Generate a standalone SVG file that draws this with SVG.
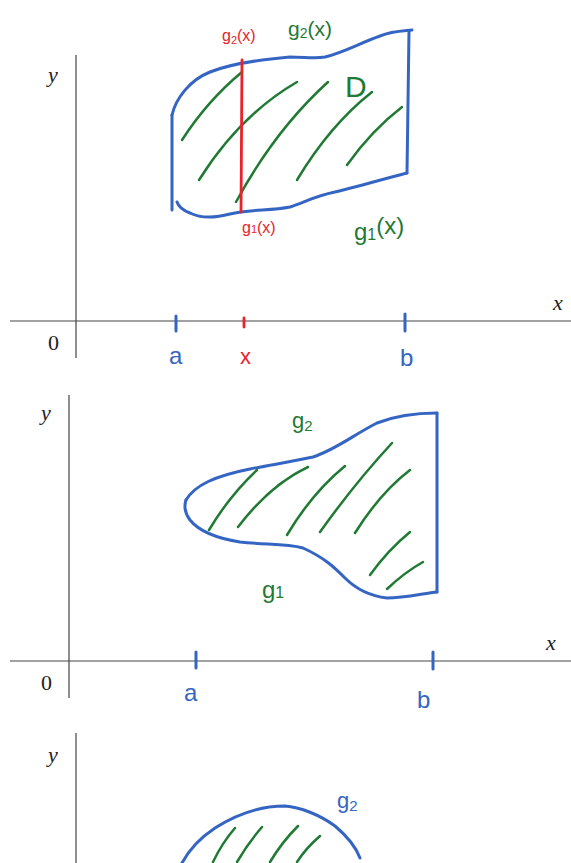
<svg xmlns="http://www.w3.org/2000/svg" width="571" height="863" viewBox="0 0 571 863">
<style>
.ax{stroke:#444;stroke-width:1.2;fill:none}
.m{font-family:"Liberation Serif",serif;font-style:italic;font-size:22px;fill:#222}
.z{font-family:"Liberation Serif",serif;font-size:22px;fill:#222}
.bl{stroke:#3565c3;stroke-width:3;fill:none;stroke-linecap:round;stroke-linejoin:round}
.gr{stroke:#1f7a33;stroke-width:2.5;fill:none;stroke-linecap:round}
.rd{stroke:#e8232b;stroke-width:2.8;fill:none;stroke-linecap:round}
.hb{font-family:"Liberation Sans",sans-serif;fill:#3565c3}
.hg{font-family:"Liberation Sans",sans-serif;fill:#1f7a33}
.hr{font-family:"Liberation Sans",sans-serif;fill:#e8232b}
</style>
<rect width="571" height="863" fill="#fff"/>

<!-- Panel 1 -->
<g id="panel1">
<line class="ax" x1="76" y1="55" x2="76" y2="358"/>
<line class="ax" x1="10" y1="321" x2="571" y2="321"/>
<text class="m" x="48" y="82">y</text>
<text class="m" x="553" y="310">x</text>
<text class="z" x="48" y="350">0</text>
<line class="bl" x1="176" y1="316" x2="176" y2="331"/>
<line class="rd" x1="244" y1="318" x2="244" y2="327"/>
<line class="bl" x1="405" y1="314" x2="405" y2="331"/>
<text class="hb" x="169" y="364" font-size="24">a</text>
<text class="hr" x="240" y="364" font-size="22">x</text>
<text class="hb" x="400" y="366" font-size="24">b</text>

<path class="bl" d="M172,115 C176,98 190,80 210,72 C230,64 255,60 290,57 C305,57 315,59 325,57 C345,52 360,43 380,36 C392,31 402,31 412,30"/>
<path class="bl" d="M409,31 L407,173"/>
<path class="bl" d="M407,173 C395,176 360,186 335,192 C315,196 305,202 290,207 C270,211 250,209 230,214 C215,218 200,218 190,213 C182,210 178,205 177,202"/>
<path class="bl" d="M172,115 L172,210"/>

<path class="gr" d="M182,140 Q208,100 242,72"/>
<path class="gr" d="M199,180 Q240,115 297,82"/>
<path class="gr" d="M236,202 Q275,130 328,82"/>
<path class="gr" d="M297,180 Q330,125 372,92"/>
<path class="gr" d="M347,165 Q372,130 402,107"/>

<line class="rd" x1="242" y1="60" x2="241" y2="212"/>

<text class="hr" x="222" y="41" font-size="16">g<tspan font-size="11" dy="3">2</tspan><tspan dy="-3">(x)</tspan></text>
<text class="hg" x="288" y="36" font-size="21">g<tspan font-size="14" dy="2">2</tspan><tspan dy="-2">(x)</tspan></text>
<text class="hg" x="345" y="97" font-size="30">D</text>
<text class="hr" x="242" y="233" font-size="16">g<tspan font-size="11">1</tspan>(x)</text>
<text class="hg" x="354" y="240" font-size="24">g<tspan font-size="16">1</tspan><tspan dy="-6">(x)</tspan></text>
</g>

<!-- Panel 2 -->
<g id="panel2">
<line class="ax" x1="69" y1="395" x2="69" y2="698"/>
<line class="ax" x1="10" y1="661" x2="571" y2="661"/>
<text class="m" x="41" y="420">y</text>
<text class="m" x="546" y="650">x</text>
<text class="z" x="41" y="690">0</text>
<line class="bl" x1="196" y1="652" x2="196" y2="668"/>
<line class="bl" x1="433" y1="652" x2="433" y2="669"/>
<text class="hb" x="184" y="701" font-size="24">a</text>
<text class="hb" x="417" y="708" font-size="24">b</text>

<path class="bl" d="M186,500 C195,485 215,476 250,469 C270,465 290,462 313,457 C335,450 355,434 377,423 C395,416 415,413 437,413"/>
<path class="bl" d="M437,413 L437,592"/>
<path class="bl" d="M437,592 C425,593 405,598 387,598 C370,596 355,588 345,578 C335,568 325,558 303,548 C285,543 265,545 240,542 C215,538 198,530 190,520 C184,512 184,506 186,500"/>

<path class="gr" d="M209,530 Q230,495 257,470"/>
<path class="gr" d="M238,527 Q270,485 308,467"/>
<path class="gr" d="M287,535 Q312,493 345,466"/>
<path class="gr" d="M320,532 Q355,483 392,443"/>
<path class="gr" d="M355,533 Q380,493 410,470"/>
<path class="gr" d="M370,575 Q388,550 410,532"/>
<path class="gr" d="M387,589 Q405,572 423,562"/>

<text class="hg" x="292" y="428" font-size="22">g<tspan font-size="15" dy="3">2</tspan></text>
<text class="hg" x="262" y="598" font-size="24">g<tspan font-size="16">1</tspan></text>
</g>

<!-- Panel 3 -->
<g id="panel3">
<line class="ax" x1="76" y1="733" x2="76" y2="863"/>
<text class="m" x="48" y="762">y</text>
<path class="bl" d="M182,863 C190,848 200,838 215,828 C240,812 265,806 285,806 C300,807 320,815 335,826 C348,837 356,847 360,858"/>
<path class="gr" d="M235,828 Q222,843 213,862"/>
<path class="gr" d="M262,827 Q248,843 237,862"/>
<path class="gr" d="M298,826 Q282,842 270,862"/>
<path class="gr" d="M320,836 Q306,848 297,862"/>
<text class="hb" x="337" y="808" font-size="22">g<tspan font-size="15" dy="3">2</tspan></text>
</g>
</svg>
